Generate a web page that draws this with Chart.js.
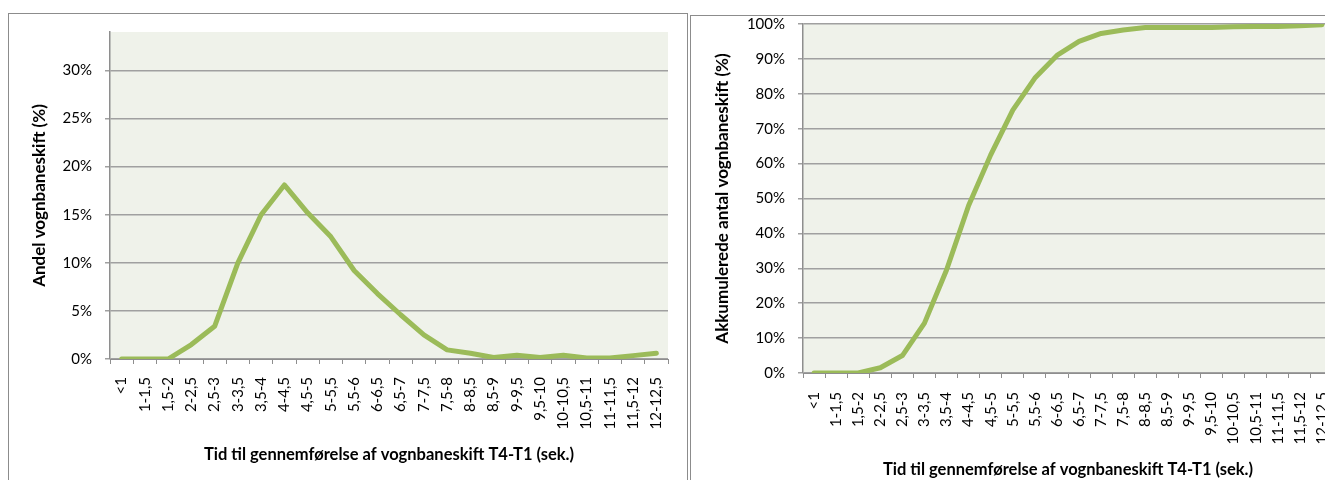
<!DOCTYPE html>
<html>
<head>
<meta charset="utf-8">
<script src="https://cdn.jsdelivr.net/npm/chart.js@4.4.1/dist/chart.umd.min.js"></script>
<style>
  html, body { margin: 0; padding: 0; background: #fff; overflow: hidden; width: 1325px; height: 480px; }
  .frame { position: absolute; border: 1px solid #8c8c8c; overflow: hidden; }
  #frame-share { left: 8px; top: 13px; width: 678px; height: 480px; }
  #frame-cumulative { left: 690px; top: 15px; width: 700px; height: 480px; }
  canvas { display: block; }
</style>
</head>
<body>
<div class="frame" id="frame-share"><canvas id="share-chart" width="678" height="466"></canvas></div>
<div class="frame" id="frame-cumulative"><canvas id="cumulative-chart" width="660" height="464"></canvas></div>
<script>
const CATEGORIES = [
  "<1", "1-1,5", "1,5-2", "2-2,5", "2,5-3", "3-3,5", "3,5-4", "4-4,5",
  "4,5-5", "5-5,5", "5,5-6", "6-6,5", "6,5-7", "7-7,5", "7,5-8", "8-8,5",
  "8,5-9", "9-9,5", "9,5-10", "10-10,5", "10,5-11", "11-11,5", "11,5-12", "12-12,5",
];
const SHARE_VALUES = [
  0, 0, 0, 1.5, 3.4, 10, 15, 18.1, 15.2, 12.7, 9.2, 6.8,
  4.6, 2.5, 0.95, 0.6, 0.15, 0.4, 0.15, 0.4, 0.1, 0.1, 0.35, 0.6,
];
const CUMULATIVE_VALUES = [
  0, 0, 0, 1.5, 5, 14.3, 29.5, 48, 62.5, 75.3, 84.5, 91,
  95, 97.3, 98.3, 99, 99, 99, 99, 99.2, 99.3, 99.3, 99.5, 99.8,
];
const SHARE_TICKS = [0, 5, 10, 15, 20, 25, 30];
const CUMULATIVE_TICKS = [0, 10, 20, 30, 40, 50, 60, 70, 80, 90, 100];

const X_TITLE = "Tid til gennemførelse af vognbaneskift T4-T1 (sek.)";
const SHARE_Y_TITLE = "Andel vognbaneskift (%)";
const CUMULATIVE_Y_TITLE = "Akkumulerede antal vognbaneskift (%)";

const LINE_COLOR = "#9bbb59";
const PLOT_BG = "#eff2ea";
const GRID_COLOR = "#a0a0a0";
const AXIS_COLOR = "#8e8e8e";
const FONT = "Lato";

Chart.defaults.font.family = FONT;
Chart.defaults.color = "#000";

const plotBackground = {
  id: "plotBackground",
  beforeDraw(chart) {
    const { ctx, chartArea } = chart;
    ctx.save();
    ctx.fillStyle = PLOT_BG;
    ctx.fillRect(chartArea.left, chartArea.top, chartArea.right - chartArea.left, chartArea.bottom - chartArea.top);
    ctx.restore();
  },
};

document.addEventListener("DOMContentLoaded", () => mount());

function mount() {
  createChart(document.getElementById("share-chart").getContext("2d"), {
    values: SHARE_VALUES,
    ticks: SHARE_TICKS,
    max: 34,
    yTitle: SHARE_Y_TITLE,
    padding: { top: 18, right: 19, left: 0, bottom: 0 },
    yWidth: 101,
    xHeight: 121,
    yTitlePad: 20.8,
    xTitlePad: 15.1,
    xTickPad: 13,
  });
  createChart(document.getElementById("cumulative-chart").getContext("2d"), {
    values: CUMULATIVE_VALUES,
    ticks: CUMULATIVE_TICKS,
    max: 100,
    yTitle: CUMULATIVE_Y_TITLE,
    padding: { top: 8, right: 18, left: 0, bottom: 0 },
    yWidth: 112,
    xHeight: 107,
    yTitlePad: 21.8,
    xTitlePad: 0.1,
    xTickPad: 14,
  });
}

function createChart(ctx, cfg) {
  return new Chart(ctx, {
    type: "line",
    data: {
      labels: CATEGORIES,
      datasets: [{
        data: cfg.values,
        borderColor: LINE_COLOR,
        borderWidth: 5,
        pointRadius: 0,
        tension: 0,
        borderJoinStyle: "round",
        borderCapStyle: "round",
      }],
    },
    plugins: [plotBackground],
    options: {
      responsive: false,
      animation: false,
      layout: { padding: cfg.padding },
      plugins: { legend: { display: false }, tooltip: { enabled: false } },
      scales: {
        x: {
          offset: true,
          grid: { display: true, drawOnChartArea: false, drawTicks: true, tickLength: 5, offset: true, color: AXIS_COLOR, lineWidth: 1 },
          border: { color: AXIS_COLOR, width: 1 },
          ticks: { autoSkip: false, minRotation: 90, maxRotation: 90, padding: cfg.xTickPad, font: { size: 15 } },
          title: { display: true, text: X_TITLE, font: { size: 16.5, weight: "bold" }, padding: { top: 0, bottom: cfg.xTitlePad } },
          afterFit(scale) {
            scale.height = cfg.xHeight;
            scale.paddingLeft = 0;
            scale.paddingRight = 0;
          },
        },
        y: {
          min: 0,
          max: cfg.max,
          grid: { color: GRID_COLOR, lineWidth: 1.5, tickLength: 5 },
          border: { color: AXIS_COLOR, width: 1.5 },
          ticks: { padding: 13, font: { size: 15 }, callback: (v) => v + "%" },
          afterBuildTicks(scale) {
            scale.ticks = cfg.ticks.map((v) => ({ value: v }));
          },
          title: { display: true, text: cfg.yTitle, font: { size: 17, weight: "bold" }, padding: { top: cfg.yTitlePad, bottom: 0 } },
          afterFit(scale) {
            scale.width = cfg.yWidth;
            scale.paddingTop = 0;
            scale.paddingBottom = 0;
          },
        },
      },
    },
  });
}
</script>
</body>
</html>
